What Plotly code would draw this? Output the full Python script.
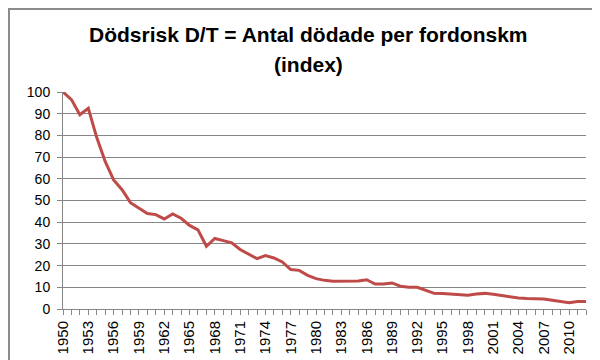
import plotly.graph_objects as go

years = list(range(1950, 2013))
risk_index = [
    100, 96.5, 89.5, 92.5, 79, 68, 59.5, 55, 49, 46.5,
    44, 43.5, 41.5, 43.8, 41.8, 38.5, 36.5, 28.9, 32.5, 31.5,
    30.5, 27.4, 25.4, 23.2, 24.6, 23.5, 21.7, 18.2, 17.8, 15.5,
    14, 13.2, 12.8, 12.8, 13.1, 12.9, 13.5, 11.5, 11.5, 12,
    10.5, 10, 10, 8.5, 7.2, 7.1, 6.8, 6.6, 6.3, 6.9,
    7.2, 6.8, 6.2, 5.5, 5.1, 4.8, 4.8, 4.6, 4.0, 3.4,
    2.9, 3.4, 3.4,
]
title_line1 = "Dödsrisk D/T = Antal dödade per fordonskm"
title_line2 = "(index)"
y_ticks = list(range(0, 101, 10))
x_label_years = list(range(1950, 2013, 3))

FONT = "Liberation Sans, Arial, sans-serif"
W, H = 600, 360
L, R, T, B = 55, 22, 84, 59
pw, ph = W - L - R, H - T - B

fig = go.Figure()
fig.add_trace(go.Scatter(
    x=years, y=risk_index, mode="lines",
    line=dict(color="#BE4B48", width=3),
    showlegend=False, hoverinfo="x+y",
))

fig.update_layout(
    width=W, height=H,
    margin=dict(l=L, r=R, t=T, b=B),
    paper_bgcolor="white", plot_bgcolor="white",
    font=dict(family=FONT, color="black"),
    annotations=[
        dict(text="<b>" + title_line1 + "</b>", x=0.5, xref="paper", xanchor="center",
             y=1 + (T - 27) / ph, yref="paper", yanchor="middle",
             showarrow=False, font=dict(size=21, family=FONT, color="black"),
             xshift=-(L - R) / 2),
        dict(text="<b>" + title_line2 + "</b>", x=0.5, xref="paper", xanchor="center",
             y=1 + (T - 56) / ph, yref="paper", yanchor="middle",
             showarrow=False, font=dict(size=21, family=FONT, color="black"),
             xshift=-(L - R) / 2),
    ],
    shapes=[
        dict(type="rect", xref="paper", yref="paper",
             x0=-(L - 1) / pw, x1=1 + (R - 1) / pw,
             y0=-(B - 1) / ph, y1=1 + (T - 1) / ph,
             line=dict(color="#8c8c8c", width=2), layer="above"),
    ],
)

fig.update_xaxes(
    range=[1950, 2012],
    tickmode="array", tickvals=x_label_years,
    ticktext=[str(y) for y in x_label_years],
    tickangle=-90,
    ticks="outside", ticklen=5, tickcolor="#868686",
    tickfont=dict(size=15, family=FONT, color="black"),
    minor=dict(tickmode="linear", tick0=1950, dtick=1, ticks="outside",
               ticklen=5, tickcolor="#868686", showgrid=False),
    showline=True, linecolor="#868686", linewidth=1,
    showgrid=False, zeroline=False,
)
fig.update_yaxes(
    range=[0, 100],
    tickmode="array", tickvals=y_ticks,
    ticks="outside", ticklen=5, tickcolor="#868686",
    ticklabelstandoff=4,
    tickfont=dict(size=14, family=FONT, color="black"),
    showline=True, linecolor="#868686", linewidth=1,
    showgrid=True, gridcolor="#868686", gridwidth=1,
    zeroline=False,
)

fig.write_html("out.html")
